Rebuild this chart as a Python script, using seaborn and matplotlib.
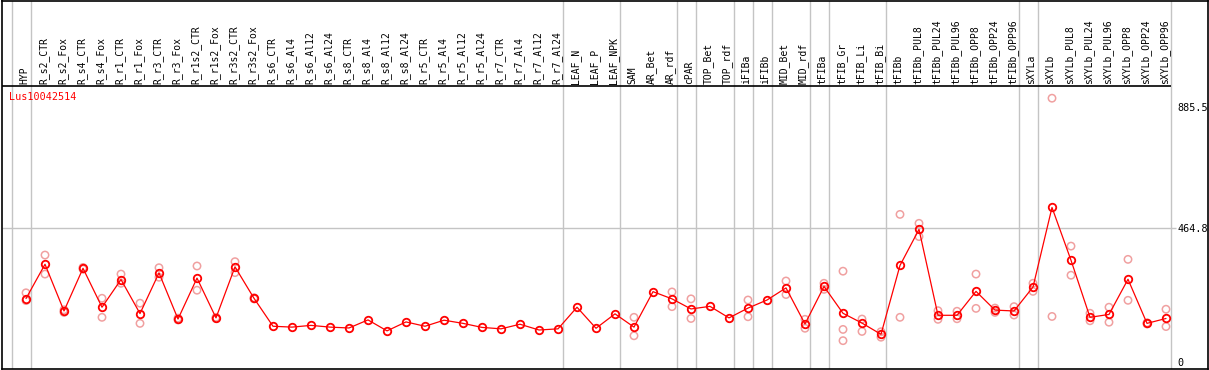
import matplotlib
matplotlib.use('Agg')
import matplotlib.pyplot as plt
import seaborn as sns
import pandas as pd

categories = [
    'HYP', 'R_s2_CTR', 'R_s2_Fox', 'R_s4_CTR', 'R_s4_Fox', 'R_r1_CTR', 'R_r1_Fox',
    'R_r3_CTR', 'R_r3_Fox', 'R_r1s2_CTR', 'R_r1s2_Fox', 'R_r3s2_CTR', 'R_r3s2_Fox',
    'R_s6_CTR', 'R_s6_Al4', 'R_s6_Al12', 'R_s6_Al24', 'R_s8_CTR', 'R_s8_Al4',
    'R_s8_Al12', 'R_s8_Al24', 'R_r5_CTR', 'R_r5_Al4', 'R_r5_Al12', 'R_r5_Al24',
    'R_r7_CTR', 'R_r7_Al4', 'R_r7_Al12', 'R_r7_Al24', 'LEAF_N', 'LEAF_P', 'LEAF_NPK',
    'SAM', 'AR_Bet', 'AR_rdf', 'cPAR', 'TOP_Bet', 'TOP_rdf', 'iFIBa', 'iFIBb',
    'MID_Bet', 'MID_rdf', 'tFIBa', 'tFIB_Gr', 'tFIB_Li', 'tFIB_Bi', 'tFIBb',
    'tFIBb_PUL8', 'tFIBb_PUL24', 'tFIBb_PUL96', 'tFIBb_OPP8', 'tFIBb_OPP24',
    'tFIBb_OPP96', 'sXYLa', 'sXYLb', 'sXYLb_PUL8', 'sXYLb_PUL24', 'sXYLb_PUL96',
    'sXYLb_OPP8', 'sXYLb_OPP24', 'sXYLb_OPP96',
]

mean_vals = [
    220, 339, 177, 325, 190, 286, 168, 309, 149, 291, 153, 330, 221,
    124, 121, 127, 121, 118, 146, 108, 139, 124, 145, 134, 120,
    115, 131, 111, 115, 190, 117, 167,
    121, 244, 219, 184, 193, 153, 187, 215,
    257, 132, 262, 169, 135, 96, 335,
    460, 162, 162, 245, 180, 177,
    260, 536, 353, 155, 165, 287, 134, 151,
]

rep_a = [
    240, 371, 181, 328, 221, 305, 204, 327, 152, 333, 155, 348, 223,
    None, None, None, None, None, None, None, None, None, None, None, None,
    None, None, None, None, None, None, None,
    155, None, 243, 219, None, None, 215, None,
    281, 148, 273, 315, 149, 105, 512,
    481, 178, 176, 305, 187, 192,
    273, 915, 402, 169, 190, 356, 136, 183,
]

rep_b = [
    213, 305, 172, 322, 155, 273, 134, 294, 146, 249, 151, 310, 219,
    None, None, None, None, None, None, None, None, None, None, None, None,
    None, None, None, None, None, None, None,
    91, None, 192, 151, None, None, 157, None,
    234, 117, 252, 113, 106, 86, 155,
    435, 148, 150, 186, 172, 163,
    245, 158, 301, 143, 138, 214, 132, 123,
]

extra_rep_cats = ['tFIB_Gr']
extra_rep_vals = [74]

tick_vals = [0, 464.8, 885.5]
tick_labels = ['0', '464.8', '885.5']
gene_label = 'Lus10042514'
# group separators: boundary after these categories (-1 = before first)
separator_after = [-1, 0, 28, 31, 34, 35, 37, 38, 39, 41, 42, 45, 52, 53, 60]

# ---- data frames ----
pos = list(range(len(categories)))
df_mean = pd.DataFrame({'pos': pos, 'value': mean_vals})
rows = []
for reps in (rep_a, rep_b):
    for p, v in zip(pos, reps):
        if v is not None:
            rows.append((p, v))
for c, v in zip(extra_rep_cats, extra_rep_vals):
    rows.append((categories.index(c), v))
df_reps = pd.DataFrame(rows, columns=['pos', 'value'])

sns.set_style('white')
plt.rcParams['font.family'] = ['DejaVu Sans Mono', 'DejaVu Sans']

W, H = 1209, 370
fig = plt.figure(figsize=(W / 100, H / 100), dpi=100)
ax = fig.add_axes([1.5 / W, 1 - 369 / H, (1208 - 1.5) / W, (369 - 0.5) / H])

# pixel mapping helpers (x: 26 + 19*i ; y: 362 - 0.2883*v)
def px_to_x(px):
    return (px - 26) / 19.0

def py_to_v(py):
    return (362 - py) / 0.2883

ax.set_xlim(px_to_x(1.5), px_to_x(1208))
ax.set_ylim(py_to_v(369), py_to_v(0.5))

for b in separator_after:
    ax.axvline(b + 0.24, color='#c4c4c4', lw=1.0, zorder=0)
ax.hlines(464.8, px_to_x(1.5), px_to_x(1176), color='#c4c4c4', lw=1.0, zorder=0)
ax.hlines(py_to_v(86), px_to_x(1.5), px_to_x(1170.5), color='black', lw=1.2, zorder=1)

pink = '#f0a0a0'
sns.scatterplot(data=df_reps, x='pos', y='value', ax=ax, marker='o', s=28,
                fc='none', ec=pink, linewidth=1.1, zorder=2, legend=False)
sns.lineplot(data=df_mean, x='pos', y='value', ax=ax, color='red', lw=0.9,
             marker='o', markersize=5.4, markerfacecolor='none',
             markeredgecolor='red', markeredgewidth=1.3, zorder=3, legend=False)

for i, c in enumerate(categories):
    ax.text(i - 0.08, py_to_v(83.5), c, rotation=90, ha='center', va='bottom',
            fontsize=7, color='black')

ax.text(px_to_x(9), py_to_v(91.5), gene_label, color='red', fontsize=7.3,
        ha='left', va='top')

ax.yaxis.tick_right()
ax.set_yticks(tick_vals)
ax.set_yticklabels(tick_labels)
ax.tick_params(axis='y', length=0, pad=-21.8, labelsize=7.3, labelcolor='black')
ax.set_xticks([])
ax.set_xlabel('')
ax.set_ylabel('')
for s in ax.spines.values():
    s.set_color('black')
    s.set_linewidth(1.2)
    s.set_visible(True)

fig.savefig('out.png', dpi=100)
